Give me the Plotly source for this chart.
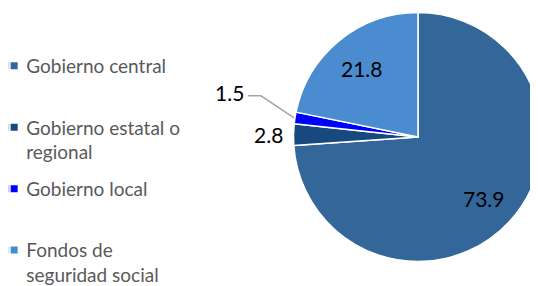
import math
import plotly.graph_objects as go

labels = ["Gobierno central", "Gobierno estatal o regional", "Gobierno local", "Fondos de seguridad social"]
legend_labels = ["Gobierno central<br> ", "Gobierno estatal o<br>regional", "Gobierno local<br> ", "Fondos de<br>seguridad social"]
values = [73.9, 2.8, 1.5, 21.8]
colors = ["#336699", "#17497F", "#0000FF", "#4A8CCF"]

# figure geometry (pixels from top-left of the figure)
W, H = 538, 286
CX, CY, R = 410, 129, 124.5
# label radius as a fraction of R for each slice (None = leader line label)
label_r = [0.72, 1.2, None, 0.71]

def paper(xp, yp):
    return xp / W, 1 - yp / H

fig = go.Figure()
fig.add_trace(go.Pie(
    labels=labels, values=values, sort=False, direction="clockwise", rotation=0,
    marker=dict(colors=colors, line=dict(color="white", width=1.5)),
    textinfo="none",
    domain=dict(x=[(CX - R) / W, (CX + R) / W], y=[1 - (CY + R) / H, 1 - (CY - R) / H]),
    showlegend=False, hoverinfo="label+value",
))

# legend texts (symbols hidden) and legend symbols (texts blank)
for i, name in enumerate(legend_labels):
    fig.add_trace(go.Scatter(
        x=[None], y=[None], mode="markers", name=name,
        marker=dict(symbol="square", size=7, color=colors[i], opacity=0),
        legendgroup=f"g{i}", legend="legend", showlegend=True,
    ))
for i, name in enumerate(legend_labels):
    fig.add_trace(go.Scatter(
        x=[None], y=[None], mode="markers", name=" <br> ",
        marker=dict(symbol="square", size=7, color=colors[i]),
        legendgroup=f"s{i}", legend="legend2", showlegend=True,
    ))

total = sum(values)
cum = 0.0
annotations = []
shapes = []
for i, v in enumerate(values):
    mid = (cum + v / 2) / total * 2 * math.pi
    cum += v
    dx, dy = math.sin(mid), -math.cos(mid)
    txt = f"{v:.1f}"
    if label_r[i] is not None:
        r = label_r[i] * R
        x, y = paper(CX + dx * r, CY + dy * r)
        annotations.append(dict(x=x, y=y, xref="paper", yref="paper", text=txt,
                                showarrow=False, xanchor="center", yanchor="middle",
                                font=dict(family="Lato", size=21, color="#000000")))
    else:
        ex, ey = CX + dx * (R + 1), CY + dy * (R + 1)
        elx, ely = ex - 33, ey - 22
        sx, sy = elx - 13, ely
        p0, p1, p2 = paper(sx, sy), paper(elx, ely), paper(ex, ey)
        shapes.append(dict(type="path", xref="paper", yref="paper",
                           path=f"M {p0[0]},{p0[1]} L {p1[0]},{p1[1]} L {p2[0]},{p2[1]}",
                           line=dict(color="#A6A6A6", width=1.5)))
        tx, ty = paper(sx - 2, sy - 3)
        annotations.append(dict(x=tx, y=ty, xref="paper", yref="paper", text=txt,
                                showarrow=False, xanchor="right", yanchor="middle",
                                font=dict(family="Lato", size=21, color="#000000")))

legend_common = dict(yanchor="top", xanchor="left", valign="top", tracegroupgap=9,
                     font=dict(family="Lato", size=19, color="#595959"),
                     bgcolor="rgba(0,0,0,0)", y=1 - 39 / 286)

fig.update_layout(
    width=W, height=H,
    margin=dict(l=0, r=0, t=0, b=0, autoexpand=False),
    paper_bgcolor="white", plot_bgcolor="white",
    xaxis=dict(visible=False), yaxis=dict(visible=False),
    legend=dict(x=-0.0404, **legend_common),
    legend2=dict(x=-0.0257, **legend_common),
    annotations=annotations,
    shapes=shapes,
    font=dict(family="Lato"),
)

fig.write_html("out.html")
